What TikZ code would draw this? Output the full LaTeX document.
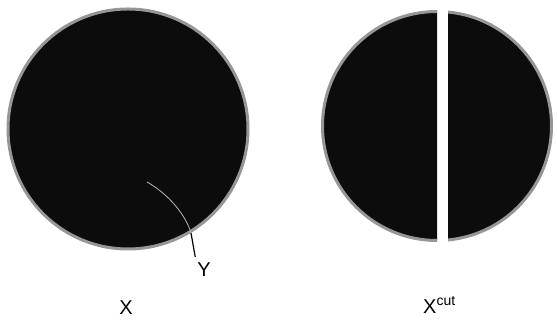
\documentclass[tikz,border=0pt]{standalone}
\usepackage{fontspec}
\setmainfont{Liberation Sans}
\definecolor{DiscDark}{RGB}{12, 12, 12}
\definecolor{DiscHalo}{RGB}{150, 150, 150}
\usetikzlibrary{positioning}

\begin{document}
\begin{tikzpicture}[x=1pt, y=1pt, font=\fontsize{20}{22}\selectfont,
	disc/.style={fill=DiscDark, draw=DiscHalo, line width=3pt},
	lab/.style={inner sep=1pt},
	ld/.style={line width=1.2pt, black, shorten >=5pt}]
	\useasboundingbox (0,0) rectangle (557,320);
	% whole disc X with inclusion Y
	\draw[disc] (128,191) circle (120);
	\coordinate (Ys) at (147,138);
	\coordinate (Ye) at (191,87);
	\draw[DiscHalo!70, line width=0.8pt] (Ys) .. controls (170,125) and (186,104) .. (Ye);
	\node[lab] (Y) at (204,50) {Y};
	\draw[ld] (Ye) -- (Y.north west);
	\node[lab] (X) at (126,12) {X};
	% disc cut in two pieces
	\begin{scope}
		\clip (300,0) rectangle (437,320);
		\draw[disc] (437,194) circle (114.5);
	\end{scope}
	\begin{scope}
		\clip (448,0) rectangle (557,320);
		\draw[disc] (437,194) circle (114.5);
	\end{scope}
	\node[lab, anchor=west] (Xc) at (422,15) {X\textsuperscript{cut}};
\end{tikzpicture}
\end{document}
